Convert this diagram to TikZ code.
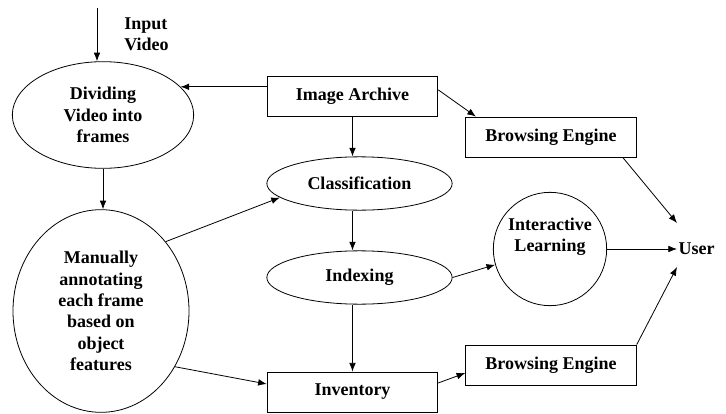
\documentclass[tikz,border=0pt]{standalone}
\usepackage{fontspec}
\setmainfont{Liberation Serif}
\usetikzlibrary{shapes.geometric, arrows.meta}

\begin{document}
\begin{tikzpicture}[x=0.75pt, y=-0.75pt, line width=0.6pt,
    every node/.style={font=\fontsize{13.5}{16}\selectfont\bfseries, align=center},
    box/.style={draw, rectangle, inner sep=0pt, minimum width=128pt, minimum height=30pt},
    oval/.style={draw, ellipse, inner sep=0pt},
    arr/.style={-{Latex[length=6.5pt,width=5pt]}}]
  \useasboundingbox (0,0) rectangle (726,414);

  % Left column
  \coordinate (instart) at (97,8);
  \node [anchor=north west, inner sep=0pt, align=left] (inlabel) at (124,17) {Input\\Video};
  \node [oval, minimum width=136pt, minimum height=80pt] (dividing) at (103,115) {Dividing\\Video into\\frames};
  \node [oval, minimum width=132pt, minimum height=152pt] (manual) at (101,311)
    {Manually\\annotating\\each frame\\based on\\object\\features};

  % Middle column
  \node [box] (archive) at (352.5,96.5) {Image Archive};
  \node [oval, minimum width=139pt, minimum height=40pt] (classif) at (359.5,183.5) {Classification};
  \node [oval, minimum width=139pt, minimum height=40pt] (indexing) at (359.5,277.5) {Indexing};
  \node [box] (inventory) at (352.5,392) {Inventory};

  % Right column
  \node [box] (browse1) at (551,137) {Browsing Engine};
  \node [box] (browse2) at (551,365) {Browsing Engine};
  \node [draw, circle, inner sep=0pt, minimum size=85pt,
    label={[yshift=9pt]center:Interactive\\Learning}] (interact) at (550,249) {};
  \node [anchor=west, inner sep=1pt] (user) at (677,249) {User};

  \draw [arr] (instart) -- (instart |- dividing.north);
  \draw [arr] (archive.west |- dividing.20) -- (dividing.20);
  \draw [arr] (dividing.south) -- (dividing.south |- manual.north);
  \draw [arr] (archive.south) -- (archive.south |- classif.north);
  \draw [arr] (archive.south |- classif.south) -- (archive.south |- indexing.north);
  \draw [arr] (archive.south |- indexing.south) -- (inventory.north);
  \draw [arr] (manual.47) -- (classif.190);
  \draw [arr] (manual.-37) -- ([yshift=6pt]inventory.west);
  \draw [arr] (indexing.east) -- (interact.196);
  \draw [arr] (interact.east) -- (user.west);
  \draw [arr] ([yshift=5pt]archive.east) -- ([xshift=8pt]browse1.north west);
  \draw [arr] ([xshift=-10.5pt]browse1.south east) -- ([yshift=19.5pt]user.west);
  \draw [arr] ([yshift=6.75pt]inventory.east) -- ([yshift=-6pt]browse2.west);
  \draw [arr] (browse2.north east) -- ([yshift=-13.5pt]user.west);

\end{tikzpicture}
\end{document}
